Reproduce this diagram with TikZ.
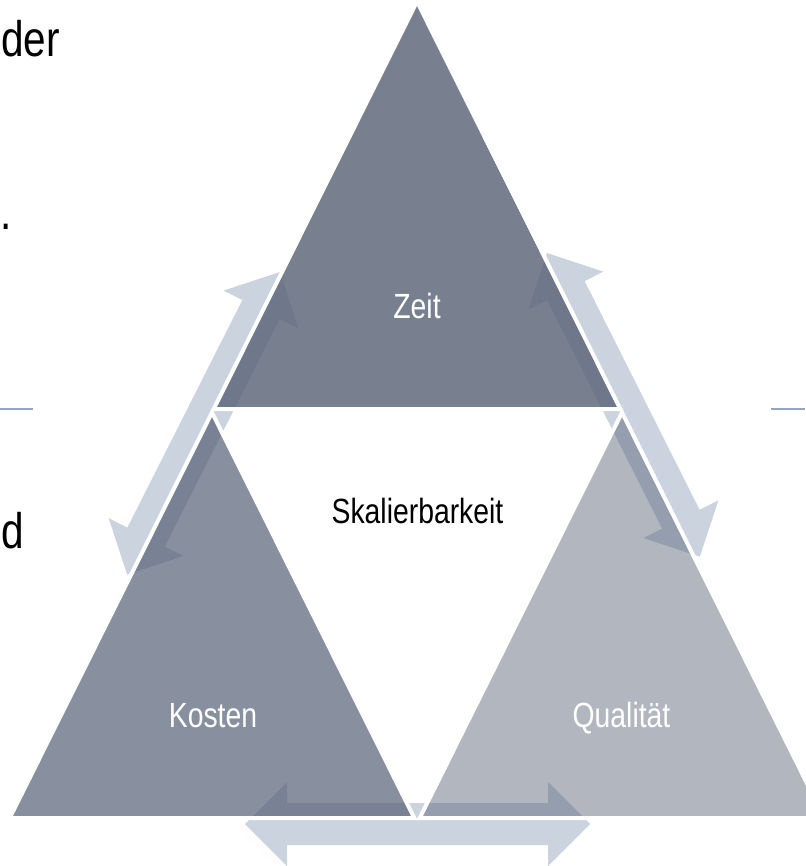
\documentclass[tikz,border=0pt]{standalone}
\usepackage{fontspec}
\setmainfont{Liberation Sans}[FakeStretch=0.81]

\definecolor{grundton}{RGB}{90,100,120}
\definecolor{pfeilfarbe}{RGB}{203,211,223}
\definecolor{linienfarbe}{RGB}{149,165,192}

% Doppelpfeil: Startpunkt, Winkel, Laenge
\newcommand{\doppelpfeil}[3]{%
  \fill[pfeil, shift={(#1)}, rotate=#2] (0,0) -- (42,42) -- (42,21) -- (#3-42,21) -- (#3-42,42) -- (#3,0)
    -- (#3-42,-42) -- (#3-42,-21) -- (42,-21) -- (42,-42) -- cycle;}

\begin{document}
\begin{tikzpicture}[x=1pt, y=-1pt,
    dreieck/.style={fill=grundton, draw=white, line width=4pt},
    pfeil/.style={fill=pfeilfarbe},
    linie/.style={draw=linienfarbe, line width=2.5pt},
    beschriftung/.style={anchor=base, inner sep=0pt, font=\fontsize{35}{40}\selectfont},
    randtext/.style={inner sep=0pt, anchor=base west, font=\fontsize{50}{56}\selectfont}]
	\useasboundingbox (0,0) rectangle (805,866);
	\doppelpfeil{280,272}{-116.8}{339}
	\doppelpfeil{547,253}{-63.3}{340}
	\doppelpfeil{245,824}{0}{345}
	\filldraw[dreieck, fill opacity=.82] (417,1.5) -- (213.7,409) -- (620.3,409) -- cycle;
	\filldraw[dreieck, fill opacity=.72] (212,412.5) -- (9.7,818) -- (414.3,818) -- cycle;
	\filldraw[dreieck, fill opacity=.47] (622,412.5) -- (419.7,818) -- (824.3,818) -- cycle;
	\draw[linie] (0,409) -- (33,409);
	\draw[linie] (771,409) -- (805,409);
	\node[beschriftung, text=white] (zeit) at (417,318) {Zeit};
	\node[beschriftung] (skalierbarkeit) at (417.5,523) {Skalierbarkeit};
	\node[beschriftung, text=white] (kosten) at (213,727) {Kosten};
	\node[beschriftung, text=white] (qualitaet) at (621.5,727) {Qualität};
	\node[randtext] (der) at (1,57) {der};
	\node[randtext] (punkt) at (0,230) {.};
	\node[randtext] (d) at (1,548) {d};
\end{tikzpicture}
\end{document}
